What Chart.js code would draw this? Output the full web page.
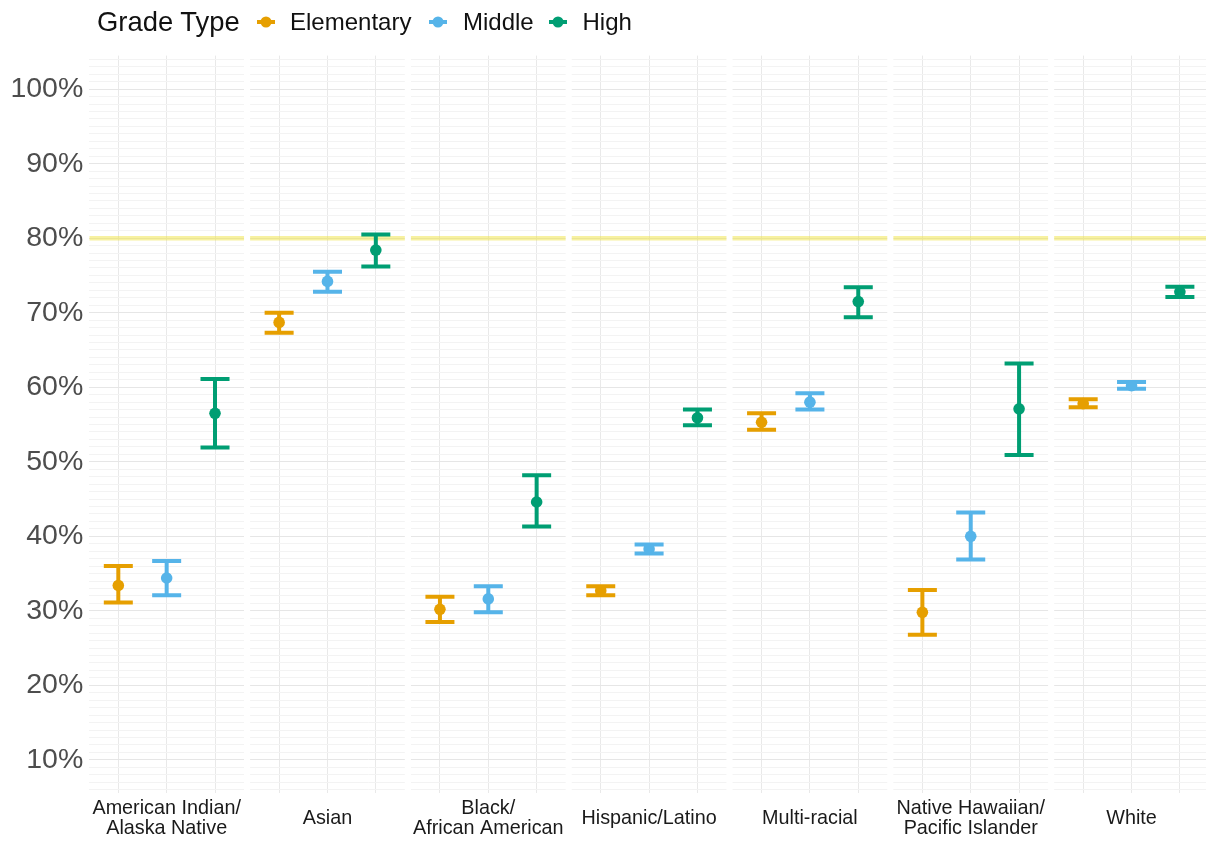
<!DOCTYPE html>
<html>
<head>
<meta charset="utf-8">
<title>Rate by race/ethnicity and grade type</title>
<script src="https://cdn.jsdelivr.net/npm/chart.js@4.4.1/dist/chart.umd.min.js"></script>
<style>
  body { margin: 0; background: #ffffff; overflow: hidden; }
  #wrap { position: relative; width: 1206px; height: 841px; font-family: "Liberation Sans", Arial, sans-serif; }
  #wrap canvas { display: block; }
  #legend { position: absolute; left: 0; top: 0; width: 1206px; height: 50px; }
  #legend .item { position: absolute; white-space: nowrap; color: #111; line-height: 1; }
  #legend svg { position: absolute; }
</style>
</head>
<body>
<div id="wrap">
  <canvas id="c" width="1206" height="841"></canvas>
  <div id="legend"></div>
</div>
<script>
// Race/ethnicity groups (one facet each) and grade types within each facet
const groups = [
  ['American Indian/', 'Alaska Native'],
  'Asian',
  ['Black/', 'African American'],
  'Hispanic/Latino',
  'Multi-racial',
  ['Native Hawaiian/', 'Pacific Islander'],
  'White'
];
const grades = ['Elementary', 'Middle', 'High'];
const gradeColors = ['#E69F00', '#56B4E9', '#009E73'];

// Point estimates (%) and confidence interval bounds, per group
const elementaryRate = [33.4, 68.7, 30.2, 32.7, 55.3, 29.8, 57.8];
const elementaryLow  = [31.1, 67.3, 28.5, 32.1, 54.3, 26.8, 57.3];
const elementaryHigh = [36.0, 70.0, 31.9, 33.3, 56.5, 32.8, 58.4];

const middleRate = [34.4, 74.2, 31.6, 38.3, 58.0, 40.0, 60.2];
const middleLow  = [32.1, 72.8, 29.8, 37.7, 57.0, 36.9, 59.8];
const middleHigh = [36.7, 75.5, 33.3, 38.9, 59.2, 43.2, 60.7];

const highRate = [56.5, 78.4, 44.6, 55.9, 71.5, 57.1, 72.8];
const highLow  = [51.9, 76.2, 41.3, 54.9, 69.4, 50.9, 72.1];
const highHigh = [61.1, 80.5, 48.2, 57.0, 73.4, 63.2, 73.5];

// Labelled y ticks and the benchmark line
const yTicks = [10, 20, 30, 40, 50, 60, 70, 80, 90, 100];
const benchmark = 80;

const rates = [elementaryRate, middleRate, highRate];
const lows  = [elementaryLow, middleLow, highLow];
const highs = [elementaryHigh, middleHigh, highHigh];

// Facet geometry in category units: each facet holds 3 slots with 0.6 padding on each side
const PANEL_STEP = 3.326;
const PANEL_PAD = 0.6;
const CAP_HALF = 0.3;
const xOf = (p, g) => p * PANEL_STEP + g + 1;
const panelLeft = p => p * PANEL_STEP + 1 - PANEL_PAD;
const panelRight = p => p * PANEL_STEP + 3 + PANEL_PAD;

const FONT = '"Liberation Sans", Arial, sans-serif';

const datasets = grades.map((name, g) => ({
  label: name,
  data: groups.map((_, p) => ({ x: xOf(p, g), y: rates[g][p] })),
  lo: lows[g],
  hi: highs[g],
  backgroundColor: gradeColors[g],
  borderColor: gradeColors[g],
  pointRadius: 5.8,
  pointHoverRadius: 5.8,
  borderWidth: 0,
  showLine: false
}));

// Facet backgrounds, benchmark line, error bars and facet labels
const facetPlugin = {
  id: 'facets',
  beforeDatasetsDraw(chart) {
    const { ctx, chartArea: a, scales: { x: xs, y: ys } } = chart;
    ctx.save();
    ctx.beginPath();
    ctx.rect(a.left, a.top, a.right - a.left, a.bottom - a.top);
    ctx.clip();
    // white gutters between facets
    ctx.fillStyle = '#ffffff';
    for (let p = 0; p < groups.length - 1; p++) {
      const x1 = xs.getPixelForValue(panelRight(p));
      const x2 = xs.getPixelForValue(panelLeft(p + 1));
      ctx.fillRect(x1, a.top, x2 - x1, a.bottom - a.top);
    }
    // benchmark line in each facet
    const yb = ys.getPixelForValue(benchmark);
    ctx.strokeStyle = 'rgba(240, 228, 66, 0.5)';
    ctx.lineWidth = 4.5;
    ctx.lineCap = 'butt';
    groups.forEach((_, p) => {
      ctx.beginPath();
      ctx.moveTo(xs.getPixelForValue(panelLeft(p)), yb);
      ctx.lineTo(xs.getPixelForValue(panelRight(p)), yb);
      ctx.stroke();
    });
    // error bars
    ctx.lineWidth = 4;
    chart.data.datasets.forEach(ds => {
      ctx.strokeStyle = ds.borderColor;
      ds.data.forEach((pt, i) => {
        const xc = xs.getPixelForValue(pt.x);
        const xl = xs.getPixelForValue(pt.x - CAP_HALF);
        const xr = xs.getPixelForValue(pt.x + CAP_HALF);
        const yl = ys.getPixelForValue(ds.lo[i]);
        const yh = ys.getPixelForValue(ds.hi[i]);
        ctx.beginPath();
        ctx.moveTo(xc, yl); ctx.lineTo(xc, yh);
        ctx.moveTo(xl, yl); ctx.lineTo(xr, yl);
        ctx.moveTo(xl, yh); ctx.lineTo(xr, yh);
        ctx.stroke();
      });
    });
    ctx.restore();
  },
  afterDraw(chart) {
    // facet labels under each facet, centred on the middle slot
    const { ctx, scales: { x: xs } } = chart;
    ctx.save();
    ctx.font = '19.8px ' + FONT;
    ctx.fillStyle = '#1a1a1a';
    ctx.textAlign = 'center';
    ctx.textBaseline = 'middle';
    const lh = 20, yc = 819;
    groups.forEach((g, p) => {
      const lines = Array.isArray(g) ? g : [g];
      const x = xs.getPixelForValue(xOf(p, 1));
      lines.forEach((t, i) => ctx.fillText(t, x, yc + (i - (lines.length - 1) / 2) * lh));
    });
    ctx.restore();
  }
};

const xTickValues = [];
groups.forEach((_, p) => grades.forEach((__, g) => xTickValues.push(xOf(p, g))));

const chart = new Chart(document.getElementById('c'), {
  type: 'scatter',
  data: { datasets },
  plugins: [facetPlugin],
  options: {
    responsive: false,
    animation: false,
    events: [],
    layout: { autoPadding: false, padding: { top: 55.6, left: 0, right: 0, bottom: 0 } },
    plugins: { legend: { display: false }, tooltip: { enabled: false } },
    scales: {
      x: {
        type: 'linear',
        min: panelLeft(0),
        max: 23.496,
        border: { display: false },
        grid: { color: '#e9e9e9', lineWidth: 1, drawTicks: false },
        afterBuildTicks: s => { s.ticks = xTickValues.map(v => ({ value: v })); },
        afterFit: s => {
          s.height = 47.6;
          s.paddingLeft = 0; s.paddingRight = 0; s.paddingTop = 0; s.paddingBottom = 0;
        },
        ticks: { display: false, autoSkip: false }
      },
      y: {
        min: 5.5,
        max: 104.5,
        border: { display: false },
        grid: {
          drawTicks: false,
          lineWidth: 1,
          color: c => (yTicks.includes(c.tick.value) ? '#e6e6e6' : '#f3f3f3')
        },
        afterBuildTicks: s => {
          const t = [];
          for (let v = 6; v <= 104; v++) t.push({ value: v });
          s.ticks = t;
        },
        afterFit: s => {
          s.width = 89.3;
          s.paddingLeft = 0; s.paddingRight = 0; s.paddingTop = 0; s.paddingBottom = 0;
        },
        ticks: {
          autoSkip: false,
          padding: 6,
          color: '#4d4d4d',
          font: { family: FONT, size: 28.5 },
          callback: v => (yTicks.includes(v) ? v + '%' : '')
        }
      }
    }
  }
});

// Legend across the top, built from the chart's datasets
(function buildLegend() {
  const box = document.getElementById('legend');
  const cy = 22;
  const title = document.createElement('span');
  title.className = 'item';
  title.textContent = 'Grade Type';
  title.style.cssText = 'left:97px;font-size:27.4px;top:' + (cy - 13.7) + 'px;';
  box.appendChild(title);
  const markerX = [266, 438, 558];
  const textX = [290, 463, 582.5];
  chart.data.datasets.forEach((ds, i) => {
    const ns = 'http://www.w3.org/2000/svg';
    const svg = document.createElementNS(ns, 'svg');
    svg.setAttribute('width', '20');
    svg.setAttribute('height', '14');
    svg.style.left = (markerX[i] - 10) + 'px';
    svg.style.top = (cy - 7) + 'px';
    const ln = document.createElementNS(ns, 'line');
    ln.setAttribute('x1', '1'); ln.setAttribute('x2', '19');
    ln.setAttribute('y1', '7'); ln.setAttribute('y2', '7');
    ln.setAttribute('stroke', ds.borderColor);
    ln.setAttribute('stroke-width', '4');
    const dot = document.createElementNS(ns, 'circle');
    dot.setAttribute('cx', '10'); dot.setAttribute('cy', '7'); dot.setAttribute('r', '5.5');
    dot.setAttribute('fill', ds.backgroundColor);
    svg.appendChild(ln); svg.appendChild(dot);
    box.appendChild(svg);
    const t = document.createElement('span');
    t.className = 'item';
    t.textContent = ds.label;
    t.style.cssText = 'left:' + textX[i] + 'px;font-size:24px;top:' + (cy - 12) + 'px;';
    box.appendChild(t);
  });
})();
</script>
</body>
</html>
